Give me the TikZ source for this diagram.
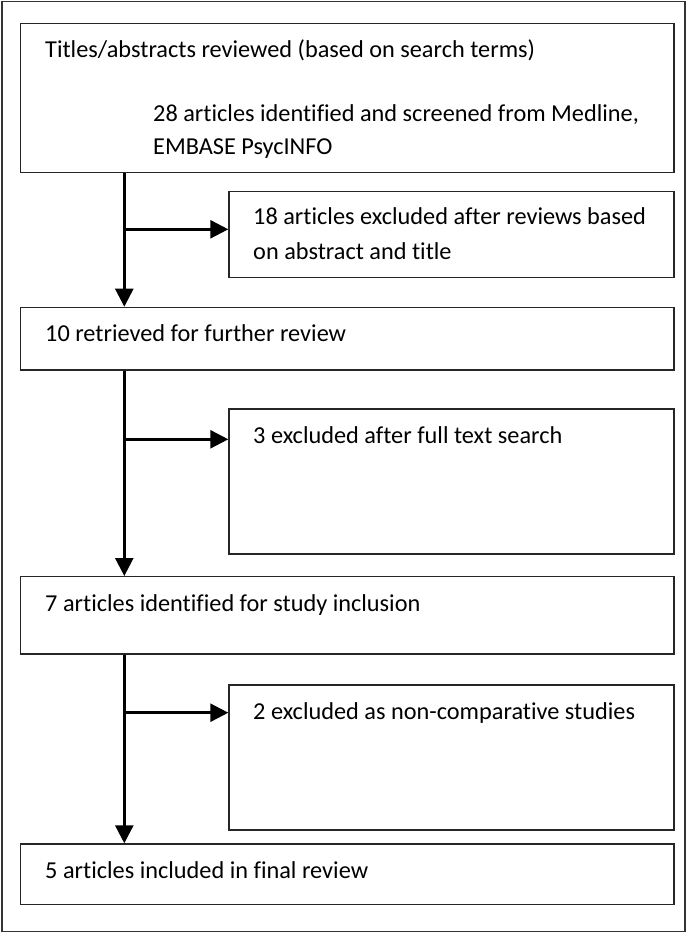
\documentclass[tikz,border=0pt]{standalone}
\usepackage{fontspec}
\setmainfont[Ligatures={NoCommon}]{Carlito}
\usetikzlibrary{arrows.meta}
\begin{document}
\begin{tikzpicture}[x=1pt,y=-1pt,
  box/.style={draw=black!85, line width=1.4pt, inner sep=0pt, anchor=north west, minimum width=#1},
  lbl/.style={anchor=base west, inner sep=0pt, font=\fontsize{24.3}{30}\selectfont, text=black},
  flow/.style={draw=black, line width=2.6pt, -{Triangle[length=18pt,width=18pt]}}]
\useasboundingbox (0,0) rectangle (693,933);
\draw[draw=black!80, line width=1.4pt] (2,1.5) rectangle (685,931.5);
% boxes
\node[box=653.3pt, minimum height=149pt] (b1) at (20,22.7) {};
\node[box=445pt, minimum height=85.7pt] (b2) at (228.3,191) {};
\node[box=653.3pt, minimum height=62.6pt] (b3) at (20,306.7) {};
\node[box=445pt, minimum height=145pt] (b4) at (228.3,408.3) {};
\node[box=653.3pt, minimum height=77.3pt] (b5) at (20,576) {};
\node[box=445pt, minimum height=145pt] (b6) at (228.3,684.3) {};
\node[box=653.3pt, minimum height=60.7pt] (b7) at (20,843.3) {};
% texts
\node[lbl] (t1a) at (45,57.3) {Titles/abstracts reviewed (based on search terms)};
\node[lbl] (t1b) at (153,121.7) {28 articles identified and screened from Medline,};
\node[lbl] (t1c) at (153,155) {EMBASE PsycINFO};
\node[lbl] (t2a) at (253,225) {18 articles excluded after reviews based};
\node[lbl] (t2b) at (253,259.3) {on abstract and title};
\node[lbl] (t3) at (45,341.7) {10 retrieved for further review};
\node[lbl] (t4) at (253,443.3) {3 excluded after full text search};
\node[lbl] (t5) at (45,611) {7 articles identified for study inclusion};
\node[lbl] (t6) at (253,719) {2 excluded as non-comparative studies};
\node[lbl] (t7) at (45,878) {5 articles included in final review};
% connectors
\coordinate (sp) at (124.3,0);
\coordinate (j1) at (124.3,229.3);
\coordinate (j2) at (124.3,439.3);
\coordinate (j3) at (124.3,712.7);
\draw[flow] (b1.south -| sp) -- (b3.north -| sp);
\draw[flow] (j1) -- (j1 -| b2.west);
\draw[flow] (b3.south -| sp) -- (b5.north -| sp);
\draw[flow] (j2) -- (j2 -| b4.west);
\draw[flow] (b5.south -| sp) -- (b7.north -| sp);
\draw[flow] (j3) -- (j3 -| b6.west);
\end{tikzpicture}
\end{document}
